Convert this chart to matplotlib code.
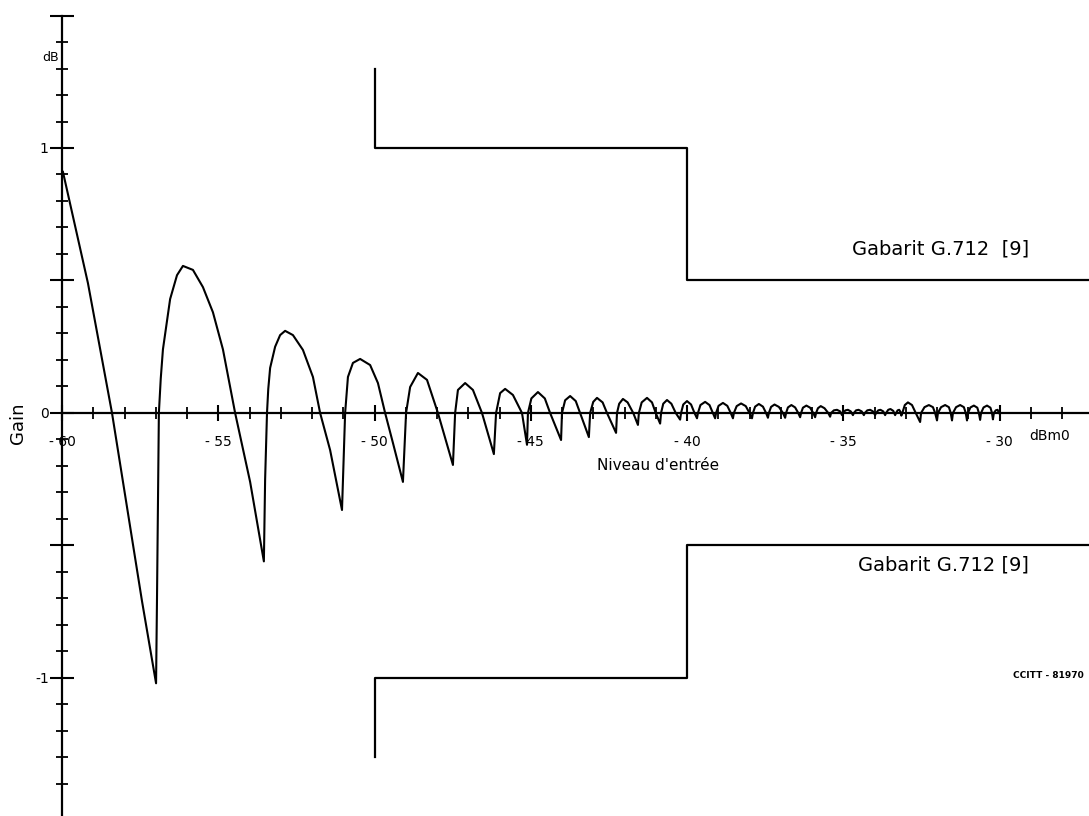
import matplotlib.pyplot as plt
from matplotlib.ticker import FixedLocator, FixedFormatter

# --- gain curve, traced in four stretches along the input level axis
# first falling edge and the large arches (-60 .. -45 dBm0)
big_lvl = [-59.97, -59.17, -58.40, -57.44, -56.99,
           -56.96, -56.90, -56.84, -56.77, -56.54, -56.32, -56.13, -55.81, -55.49, -55.17, -54.85, -54.46, -53.98, -53.54,
           -53.50, -53.44, -53.40, -53.34, -53.18, -53.02, -52.86, -52.61, -52.29, -51.97, -51.74, -51.42, -51.04,
           -50.94, -50.85, -50.69, -50.46, -50.14, -49.89, -49.66, -49.41, -49.09,
           -48.99, -48.86, -48.61, -48.32, -47.97, -47.49,
           -47.42, -47.33, -47.10, -46.85, -46.56, -46.18,
           -46.11, -45.98, -45.82, -45.57, -45.28, -45.12]
big_gain = [0.91, 0.49, 0.0, -0.71, -1.02,
            -0.70, 0.0, 0.13, 0.24, 0.43, 0.52, 0.555, 0.54, 0.475, 0.38, 0.24, 0.0, -0.26, -0.56,
            -0.25, 0.0, 0.09, 0.17, 0.25, 0.294, 0.31, 0.294, 0.238, 0.136, 0.0, -0.14, -0.366,
            0.0, 0.136, 0.189, 0.204, 0.181, 0.113, 0.0, -0.113, -0.26,
            0.0, 0.098, 0.151, 0.125, 0.0, -0.196,
            0.0, 0.087, 0.113, 0.087, 0.0, -0.155,
            0.0, 0.075, 0.091, 0.068, 0.0, -0.12]

# medium arches (-45 .. -40 dBm0)
mid_lvl = [-45.09, -44.98, -44.77, -44.55, -44.38, -44.03,
           -44.00, -43.90, -43.74, -43.56, -43.42, -43.14,
           -43.10, -43.00, -42.88, -42.70, -42.56, -42.27,
           -42.24, -42.17, -42.05, -41.90, -41.72, -41.57,
           -41.54, -41.45, -41.28, -41.12, -41.00, -40.86,
           -40.83, -40.76, -40.64, -40.50, -40.36, -40.22]
mid_gain = [0.0, 0.055, 0.079, 0.055, 0.0, -0.102,
            0.0, 0.048, 0.064, 0.045, 0.0, -0.091,
            0.0, 0.042, 0.057, 0.040, 0.0, -0.075,
            0.0, 0.035, 0.053, 0.040, 0.0, -0.045,
            0.0, 0.040, 0.057, 0.040, 0.0, -0.040,
            0.0, 0.035, 0.049, 0.035, 0.0, -0.025]

# small arches (-40 .. -35.4 dBm0)
small_lvl = [-40.19, -40.12, -40.00, -39.87, -39.76, -39.68,
             -39.65, -39.57, -39.42, -39.28, -39.17, -39.10,
             -39.07, -38.99, -38.85, -38.71, -38.60, -38.53,
             -38.50, -38.41, -38.27, -38.12, -38.00, -37.92,
             -37.89, -37.82, -37.70, -37.57, -37.47, -37.41,
             -37.38, -37.31, -37.20, -37.06, -36.93, -36.86,
             -36.83, -36.77, -36.66, -36.54, -36.44, -36.38,
             -36.35, -36.29, -36.18, -36.06, -35.96, -35.90,
             -35.87, -35.81, -35.72, -35.60, -35.48, -35.42]
small_gain = [0.0, 0.032, 0.045, 0.032, 0.0, -0.020,
              0.0, 0.030, 0.042, 0.030, 0.0, -0.020,
              0.0, 0.027, 0.038, 0.027, 0.0, -0.020,
              0.0, 0.026, 0.036, 0.026, 0.0, -0.020,
              0.0, 0.024, 0.034, 0.024, 0.0, -0.018,
              0.0, 0.023, 0.032, 0.023, 0.0, -0.018,
              0.0, 0.021, 0.030, 0.021, 0.0, -0.016,
              0.0, 0.020, 0.028, 0.020, 0.0, -0.016,
              0.0, 0.018, 0.026, 0.018, 0.0, -0.014]

# ripple and last arches (-35.4 .. -30 dBm0)
tail_lvl = [-35.39, -35.30, -35.20, -35.10, -35.04,
            -35.01, -34.93, -34.85, -34.76, -34.69,
            -34.66, -34.59, -34.51, -34.41, -34.34,
            -34.31, -34.23, -34.14, -34.05, -33.98,
            -33.95, -33.88, -33.81, -33.72, -33.66,
            -33.63, -33.56, -33.49, -33.40, -33.34,
            -33.31, -33.26, -33.21, -33.17, -33.14,
            -33.11, -33.03, -32.93, -32.80, -32.68, -32.54,
            -32.51, -32.40, -32.26, -32.13, -32.06, -32.00,
            -31.97, -31.87, -31.74, -31.62, -31.56, -31.52,
            -31.49, -31.39, -31.26, -31.14, -31.08, -31.04,
            -31.01, -30.93, -30.82, -30.71, -30.66, -30.62,
            -30.59, -30.51, -30.40, -30.29, -30.24, -30.21,
            -30.18, -30.12, -30.06, -30.02]
tail_gain = [0.0, 0.010, 0.012, 0.006, -0.008,
             0.0, 0.010, 0.012, 0.006, -0.008,
             0.0, 0.010, 0.012, 0.006, -0.008,
             0.0, 0.010, 0.012, 0.006, -0.008,
             0.0, 0.010, 0.012, 0.006, -0.008,
             0.0, 0.012, 0.015, 0.008, -0.008,
             0.0, 0.010, 0.012, 0.004, -0.010,
             0.0, 0.030, 0.040, 0.030, 0.0, -0.034,
             0.0, 0.022, 0.030, 0.022, 0.0, -0.028,
             0.0, 0.022, 0.030, 0.022, 0.0, -0.028,
             0.0, 0.022, 0.030, 0.022, 0.0, -0.028,
             0.0, 0.021, 0.028, 0.020, 0.0, -0.026,
             0.0, 0.021, 0.028, 0.020, 0.0, -0.024,
             0.0, 0.010, 0.012, 0.0]

# --- G.712 template
mask_lvl = [-50, -50, -40, -40, -27.1]
mask_hi = [1.3, 1.0, 1.0, 0.5, 0.5]
mask_lo = [-1.3, -1.0, -1.0, -0.5, -0.5]

x_major = [-60, -55, -50, -45, -40, -35, -30]
x_labels = ['- 60', '- 55', '- 50', '- 45', '- 40', '- 35', '- 30']
x_minor = [v for v in range(-59, -27) if v % 5 != 0]
y_major = [-1, -0.5, 0, 0.5, 1, 1.5]
y_labels = ['-1', '', '0', '', '1', '']
y_minor = [k / 10 for k in range(-14, 15) if k % 5 != 0]

lvl = big_lvl + mid_lvl + small_lvl + tail_lvl
gain = big_gain + mid_gain + small_gain + tail_gain

fig = plt.figure(figsize=(10.89, 8.16), dpi=100)
ax = fig.add_axes([0, 0, 1, 1])
ax.set_xlim(-61.984, -27.136)
ax.set_ylim(-1.5208, 1.5585)

ax.plot(lvl, gain, color='black', lw=1.5, solid_joinstyle='round')
ax.plot(mask_lvl, mask_hi, color='black', lw=1.6)
ax.plot(mask_lvl, mask_lo, color='black', lw=1.6)

for s in ['top', 'right']:
    ax.spines[s].set_visible(False)
ax.spines['left'].set_position(('data', -60))
ax.spines['bottom'].set_position(('data', 0))
ax.spines['left'].set_bounds(-1.52, 1.5)
ax.spines['bottom'].set_bounds(-60, -27.136)
ax.spines['left'].set_linewidth(1.6)
ax.spines['bottom'].set_linewidth(1.6)

ax.xaxis.set_major_locator(FixedLocator(x_major))
ax.xaxis.set_major_formatter(FixedFormatter(x_labels))
ax.xaxis.set_minor_locator(FixedLocator(x_minor))
ax.yaxis.set_major_locator(FixedLocator(y_major))
ax.yaxis.set_major_formatter(FixedFormatter(y_labels))
ax.yaxis.set_minor_locator(FixedLocator(y_minor))

ax.tick_params(axis='x', which='major', direction='inout', length=12, width=1.5, pad=10, labelsize=10)
ax.tick_params(axis='x', which='minor', direction='inout', length=8, width=1.3)
ax.tick_params(axis='y', which='major', direction='inout', length=17, width=1.5, pad=1, labelsize=10)
ax.tick_params(axis='y', which='minor', direction='inout', length=9, width=1.3)

ax.text(-60.38, 1.34, 'dB', fontsize=9, ha='center', va='center')
ax.text(-28.4, -0.085, 'dBm0', fontsize=10, ha='center', va='center')
ax.text(-61.4, -0.04, 'Gain', fontsize=13, rotation=90, ha='center', va='center')
ax.text(-40.93, -0.2, "Niveau d'entrée", fontsize=11, ha='center', va='center')
ax.text(-31.9, 0.62, 'Gabarit G.712  [9]', fontsize=14, ha='center', va='center')
ax.text(-31.78, -0.575, 'Gabarit G.712 [9]', fontsize=14, ha='center', va='center')
ax.text(-28.45, -0.99, 'CCITT - 81970', fontsize=6.5, fontweight='bold', ha='center', va='center')

fig.savefig('out.png', dpi=100, facecolor='white')
